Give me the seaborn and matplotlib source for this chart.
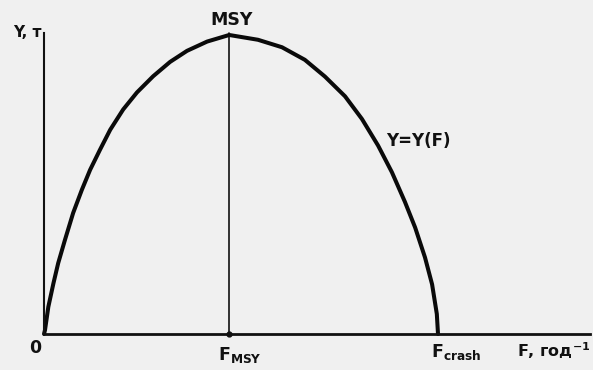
import matplotlib
matplotlib.use("Agg")
import matplotlib.pyplot as plt
import seaborn as sns
import pandas as pd

# Yield curve Y = Y(F): fishing mortality (F_crash = 1) vs. relative yield (MSY = 1)
fishing_mortality = [0.0, 0.0025, 0.011, 0.024, 0.036, 0.053, 0.074, 0.096, 0.117,
                     0.142, 0.168, 0.201, 0.236, 0.277, 0.320, 0.363, 0.414, 0.470,
                     0.543, 0.604, 0.662, 0.713, 0.764, 0.807, 0.848, 0.883, 0.916,
                     0.942, 0.967, 0.985, 0.997, 1.0]
yield_t = [0.0, 0.013, 0.091, 0.170, 0.237, 0.314, 0.405, 0.482, 0.549,
           0.616, 0.683, 0.751, 0.808, 0.862, 0.910, 0.947, 0.978, 1.0,
           0.984, 0.959, 0.917, 0.861, 0.795, 0.719, 0.630, 0.541, 0.442,
           0.356, 0.256, 0.166, 0.067, 0.0]

F_MSY = 0.470
F_CRASH = 1.0
MSY = 1.0

labels = {
    "y_axis": "Y, т",
    "x_axis": "F, год$^{\\mathbf{-1}}$",
    "msy": "MSY",
    "curve": "Y=Y(F)",
    "origin": "0",
    "f_msy": "F$_{\\mathbf{MSY}}$",
    "f_crash": "F$_{\\mathbf{crash}}$",
}

df = pd.DataFrame({"F": fishing_mortality, "Y": yield_t})

sns.set_theme(style="white")
plt.rcParams["font.family"] = ["DejaVu Sans"]
plt.rcParams["mathtext.fontset"] = "dejavusans"

bg = "#f0f0f0"
ink = "#111111"
fig = plt.figure(figsize=(5.93, 3.70), dpi=100, facecolor=bg)
ax = fig.add_axes([0, 0, 1, 1])
ax.set_facecolor(bg)
ax.set_xlim(-0.1117, 1.3934)
ax.set_ylim(-0.1204, 1.117)

# axes drawn as spines crossing at the origin
for side in ("top", "right"):
    ax.spines[side].set_visible(False)
for side, lw, top in (("left", 1.5, 1.007), ("bottom", 2.0, 1.386)):
    ax.spines[side].set_position(("data", 0))
    ax.spines[side].set_bounds(0, top)
    ax.spines[side].set_linewidth(lw)
    ax.spines[side].set_color(ink)
ax.set_xticks([])
ax.set_yticks([])

# MSY reference line
ax.plot([F_MSY, F_MSY], [0, 1.007], color=ink, lw=1.2)
ax.plot([F_MSY], [0], "o", color=ink, ms=3.5)

sns.lineplot(data=df, x="F", y="Y", ax=ax, color="#0a0a0a", lw=2.9,
             estimator=None, sort=False, solid_joinstyle="round",
             solid_capstyle="round")
ax.set_xlabel("")
ax.set_ylabel("")

ax.text(-0.005, 1.007, labels["y_axis"], ha="right", va="center",
        fontsize=11, fontweight="bold", color=ink)
ax.text(0.477, 1.050, labels["msy"], ha="center", va="center",
        fontsize=12.5, fontweight="bold", color=ink)
ax.text(0.949, 0.645, labels["curve"], ha="center", va="center",
        fontsize=12, fontweight="bold", color=ink)
ax.text(-0.023, -0.064, labels["origin"], ha="center", va="baseline",
        fontsize=12.5, fontweight="bold", color=ink)
ax.text(0.442, -0.087, labels["f_msy"], ha="left", va="baseline",
        fontsize=12.5, fontweight="bold", color=ink)
ax.text(0.982, -0.077, labels["f_crash"], ha="left", va="baseline",
        fontsize=12.5, fontweight="bold", color=ink)
ax.text(1.386, -0.077, labels["x_axis"], ha="right", va="baseline",
        fontsize=11.5, fontweight="bold", color=ink)

fig.savefig("out.png", dpi=100, facecolor=bg)
